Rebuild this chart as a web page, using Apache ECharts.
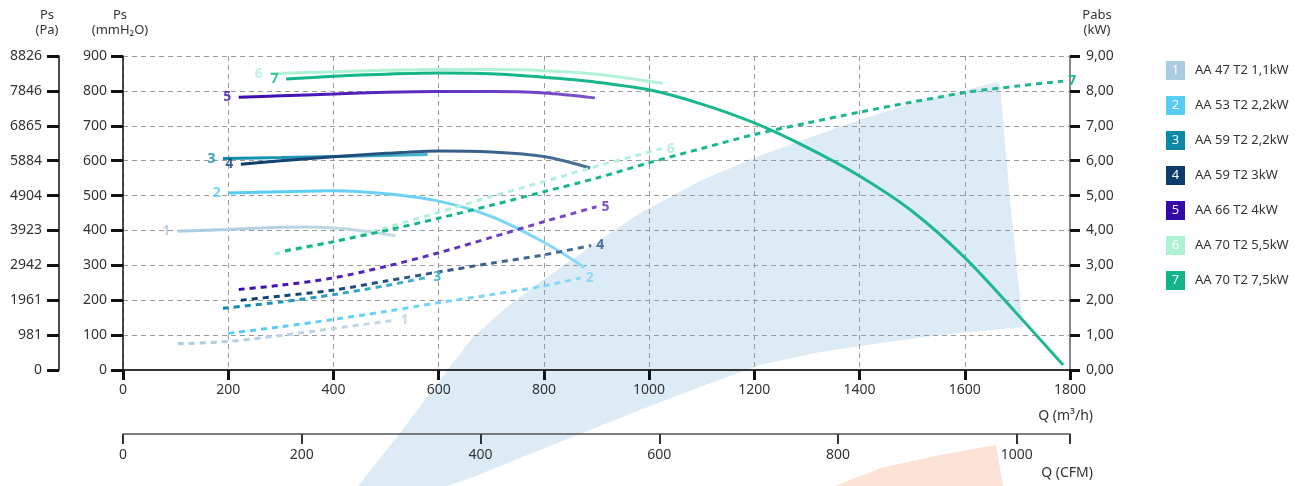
<!DOCTYPE html>
<html>
<head>
<meta charset="utf-8">
<script src="https://cdn.jsdelivr.net/npm/echarts@6/dist/echarts.min.js"></script>
<style>html,body{margin:0;padding:0;background:#fff}#c{width:1298px;height:486px}</style>
</head>
<body>
<div id="c"></div>
<script>
// ---- data ----
const models = ['AA 47 T2 1,1kW','AA 53 T2 2,2kW','AA 59 T2 2,2kW','AA 59 T2 3kW','AA 66 T2 4kW','AA 70 T2 5,5kW','AA 70 T2 7,5kW'];
const legendColors = ['#a9cce0','#56cdf5','#0a88aa','#0b3c6b','#3508aa','#aef2d4','#12b58a'];
const startColors  = ['#a9cbe0','#52cbf4','#0a8aaa','#0b3d6d','#3a0ab0','#aef2d4','#12b58a'];
const endColors    = ['#c6dae6','#8ad9f5','#4ab4d2','#4d7299','#7c52cc','#b4f2d8','#1fb894'];

// static pressure curves [Q m3/h, Ps mmH2O]
const ps1 = [[104,398],[200,403],[300,409],[350,410],[400,407],[450,400],[518,385]];
const ps2 = [[200,507],[300,511],[400,514],[500,505],[600,484],[700,440],[800,366],[877,294]];
const ps3 = [[190,606],[300,609],[400,612],[500,615],[579,618]];
const ps4 = [[224,590],[300,600],[400,611],[500,621],[600,628],[700,625],[800,612],[888,579]];
const ps5 = [[220,782],[300,786],[400,791],[500,796],[600,798],[700,798],[800,794],[897,780]];
const ps6 = [[280,849],[400,855],[500,859],[600,861],[700,861],[800,858],[900,848],[1026,822]];
const ps7 = [[310,834],[400,842],[500,848],[600,851],[700,849],[800,839],[900,825],[1000,803],[1100,762],[1200,708],[1300,638],[1400,556],[1500,455],[1600,322],[1700,160],[1787,14]];

// absorbed power curves [Q m3/h, Pabs kW]
const pw1 = [[104,0.75],[200,0.82],[300,0.99],[400,1.19],[518,1.43]];
const pw2 = [[200,1.05],[300,1.24],[400,1.45],[500,1.68],[600,1.93],[700,2.16],[800,2.41],[870,2.64]];
const pw3 = [[190,1.77],[300,1.95],[400,2.16],[500,2.42],[580,2.66]];
const pw4 = [[224,2.0],[300,2.12],[400,2.29],[500,2.55],[600,2.81],[700,3.06],[800,3.3],[890,3.57]];
const pw5 = [[220,2.31],[300,2.43],[400,2.64],[500,2.97],[600,3.36],[700,3.8],[800,4.25],[900,4.68]];
const pw6 = [[288,3.33],[400,3.66],[500,4.08],[600,4.52],[700,4.97],[800,5.4],[900,5.84],[1024,6.34]];
const pw7 = [[308,3.42],[400,3.68],[500,4.0],[600,4.35],[700,4.72],[800,5.11],[900,5.5],[1000,5.94],[1100,6.35],[1200,6.75],[1300,7.08],[1400,7.39],[1500,7.68],[1600,7.95],[1700,8.14],[1787,8.28]];

// tick labels
const paTicks = ['0','981','1961','2942','3923','4904','5884','6865','7846','8826'];
const cfmMax = 1800 / 1.699;

const psList = [ps1,ps2,ps3,ps4,ps5,ps6,ps7];
const pwList = [pw1,pw2,pw3,pw4,pw5,pw6,pw7];

// ---- chart ----
const FONT = 'Noto Sans';
const grad = (a,b) => ({type:'linear',x:0,y:0,x2:1,y2:0,colorStops:[{offset:0,color:a},{offset:1,color:b}]});
const series = [];
psList.forEach((d,i) => {
  series.push({
    name: models[i], type:'line', xAxisIndex:0, yAxisIndex:0, data:d, smooth:0.3,
    symbol:'none', lineStyle:{width:3, color:grad(startColors[i], endColors[i])},
    itemStyle:{color:legendColors[i]}, z:3
  });
});
pwList.forEach((d,i) => {
  series.push({
    name: models[i], type:'line', xAxisIndex:0, yAxisIndex:2, data:d, smooth:0.3,
    symbol:'none', lineStyle:{width:3, type:[6,5], color:grad(startColors[i], endColors[i])},
    itemStyle:{color:legendColors[i]}, z:3,
    endLabel:{show:true, formatter:String(i+1), color:endColors[i], fontSize:14, fontWeight:'bold', fontFamily:FONT, distance:5}
  });
});
series.push({
  type:'scatter', xAxisIndex:0, yAxisIndex:0, symbolSize:1, z:4, silent:true,
  itemStyle:{color:'rgba(0,0,0,0)'},
  data: psList.map((d,i) => ({value:d[0], label:{color:startColors[i]}})),
  label:{show:true, position:'left', distance:7, fontSize:14, fontWeight:'bold', fontFamily:FONT,
         formatter: p => String(p.dataIndex+1)}
});

const rich = {t:{fontSize:13, color:'#333', fontFamily:FONT, padding:[0,0,0,10]}};
legendColors.forEach((c,i) => {
  rich['b'+i] = {width:19, height:19, lineHeight:19, align:'center', backgroundColor:c, color:'#fff', fontSize:13, fontFamily:FONT};
});

const axisLabelStyle = {fontSize:14, color:'#333', fontFamily:FONT};
const nameStyle = {fontSize:13, color:'#333', fontFamily:FONT, lineHeight:15};
const dashSplit = {show:true, lineStyle:{color:'#9a9a9a', type:[5,4], width:1}};

// decorative background watermark (not data)
const bluePts = [[358,486],[400,433],[440,380],[473,337],[507,307],[543,280],[590,247],[640,213],[700,181],[754,158],[800,141],[859,120],[910,104],[966,90],[997,82],[1000,86],[1010,200],[1023,327],[940,335],[881,343],[820,352],[760,365],[700,387],[640,410],[600,426],[540,450],[473,477],[447,486]];
const orangePts = [[835,486],[881,468],[940,455],[996,445],[1003,486]];

const option = {
  animation:false,
  textStyle:{fontFamily:FONT},
  grid:{left:123, right:228, top:56, bottom:116, containLabel:false},
  graphic:[
    {type:'polygon', z:-10, silent:true, shape:{points:bluePts}, style:{fill:'#ddebf6'}},
    {type:'polygon', z:-10, silent:true, shape:{points:orangePts}, style:{fill:'#fde2d6'}},
    {type:'text', x:1093, y:416, silent:true, style:{text:'Q (m³/h)', align:'right', verticalAlign:'middle', fontSize:14, fontFamily:FONT, fill:'#333'}},
    {type:'text', x:1093, y:473, silent:true, style:{text:'Q (CFM)', align:'right', verticalAlign:'middle', fontSize:14, fontFamily:FONT, fill:'#333'}}
  ],
  legend:{
    orient:'vertical', left:1156, top:56, itemWidth:0, itemHeight:19, itemGap:16, icon:'rect',
    selectedMode:false, data:models,
    formatter: name => { const i = models.indexOf(name); return '{b'+i+'|'+(i+1)+'}{t|'+name+'}'; },
    textStyle:{rich:rich}
  },
  xAxis:[
    {type:'value', min:0, max:1800, interval:200, position:'bottom',
     axisLine:{show:true, onZero:false, lineStyle:{color:'#333', width:2}},
     axisTick:{show:true, length:10, lineStyle:{color:'#111', width:3}},
     axisLabel:Object.assign({margin:13, formatter: v => String(v)}, axisLabelStyle),
     splitLine:dashSplit},
    {type:'value', min:0, max:cfmMax, interval:200, position:'bottom', offset:64,
     axisLine:{show:true, onZero:false, lineStyle:{color:'#555', width:1.5}},
     axisTick:{show:true, length:10, lineStyle:{color:'#333', width:2}},
     axisLabel:Object.assign({margin:14, showMaxLabel:true, formatter: v => (Math.abs(v % 200) < 1e-6 ? String(v) : '')}, axisLabelStyle),
     splitLine:{show:false}}
  ],
  yAxis:[
    {type:'value', min:0, max:900, interval:100, position:'left',
     axisLine:{show:true, onZero:false, lineStyle:{color:'#111', width:1.5}},
     axisTick:{show:true, length:12, lineStyle:{color:'#111', width:3}},
     axisLabel:Object.assign({margin:16}, axisLabelStyle),
     splitLine:dashSplit,
     name:'Ps\n(mmH₂O)', nameLocation:'end', nameGap:18,
     nameTextStyle:Object.assign({}, nameStyle, {padding:[0,6,0,0]})},
    {type:'value', min:0, max:900, interval:100, position:'left', offset:64,
     axisLine:{show:true, onZero:false, lineStyle:{color:'#111', width:1.5}},
     axisTick:{show:true, length:12, lineStyle:{color:'#111', width:3}},
     axisLabel:Object.assign({margin:17, formatter: v => paTicks[Math.round(v/100)]}, axisLabelStyle),
     splitLine:{show:false},
     name:'Ps\n(Pa)', nameLocation:'end', nameGap:18,
     nameTextStyle:Object.assign({}, nameStyle, {padding:[0,24,0,0]})},
    {type:'value', min:0, max:9, interval:1, position:'right',
     axisLine:{show:true, onZero:false, lineStyle:{color:'#888', width:2}},
     axisTick:{show:true, length:10, lineStyle:{color:'#111', width:3}},
     axisLabel:Object.assign({margin:16, formatter: v => v.toFixed(2).replace('.', ',')}, axisLabelStyle),
     splitLine:{show:false},
     name:'Pabs\n(kW)', nameLocation:'end', nameGap:18,
     nameTextStyle:Object.assign({}, nameStyle, {padding:[0,0,0,54]})}
  ],
  series:series
};
const chart = echarts.init(document.getElementById('c'), null, {renderer:'canvas'});
chart.setOption(option);
</script>
</body>
</html>
